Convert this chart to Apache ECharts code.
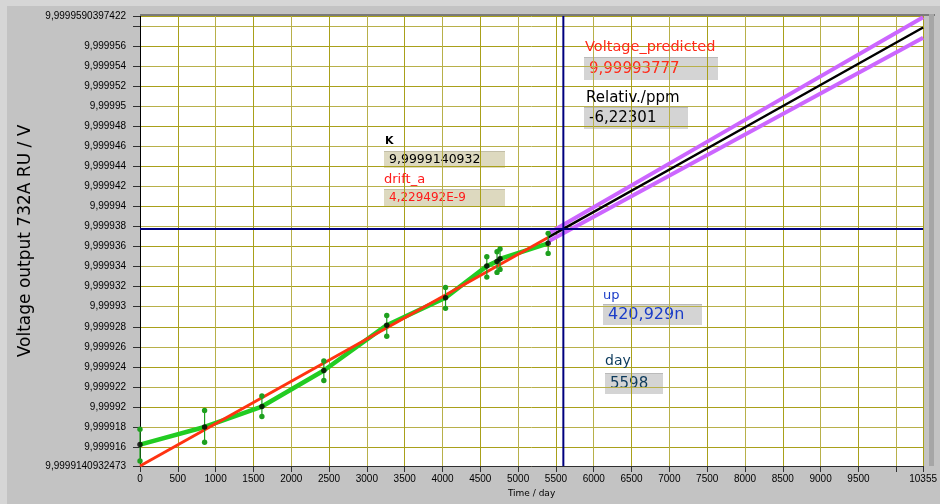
<!DOCTYPE html>
<html>
<head>
<meta charset="utf-8">
<script src="https://cdn.jsdelivr.net/npm/echarts@6/dist/echarts.min.js"></script>
<style>
html,body{margin:0;padding:0;background:#c3c3c3;}
#chart{width:940px;height:504px;}
</style>
</head>
<body>
<div id="chart"></div>
<script>
// ---- data ----
const days      = [0, 854, 1612, 2431, 3263, 4040, 4586, 4721, 4761, 5397];
const meanV     = [9.99991623, 9.99991799, 9.99992003, 9.99992363, 9.99992816, 9.99993091, 9.99993406, 9.99993453, 9.99993479, 9.99993633];
const lowV      = [9.99991459, 9.99991646, 9.99991903, 9.99992263, 9.99992706, 9.99992984, 9.99993296, 9.99993343, 9.99993373, 9.99993533];
const highV     = [9.99991776, 9.99991963, 9.99992109, 9.99992459, 9.99992913, 9.99993193, 9.99993499, 9.99993549, 9.99993576, 9.99993733];
const fitDays   = [0, 5397];
const fitV      = [9.9999140932, 9.99993692];
const predDays  = [5397, 5598, 7800, 10355];
const predV     = [9.99993692, 9.99993777, 9.99994708, 9.99995789];
const predUpV   = [9.99993732, 9.99993819, 9.99994779, 9.99995891];
const predLoV   = [9.99993652, 9.99993735, 9.99994637, 9.99995687];
const cursorDay = 5598;
const cursorV   = 9.99993777;

const xMin = 0, xMax = 10355;
const yMin = 9.9999140932473, yMax = 9.9999590397422;
const xTicks = [0,500,1000,1500,2000,2500,3000,3500,4000,4500,5000,5500,6000,6500,7000,7500,8000,8500,9000,9500,10000,10355];
const xLabels = [0,500,1000,1500,2000,2500,3000,3500,4000,4500,5000,5500,6000,6500,7000,7500,8000,8500,9000,9500,10355];
const yTicks = [9.9999140932473,9.999916,9.999918,9.99992,9.999922,9.999924,9.999926,9.999928,9.99993,9.999932,9.999934,9.999936,9.999938,9.99994,9.999942,9.999944,9.999946,9.999948,9.99995,9.999952,9.999954,9.999956,9.999958,9.9999590397422];
const yLabels = [9.9999140932473,9.999916,9.999918,9.99992,9.999922,9.999924,9.999926,9.999928,9.99993,9.999932,9.999934,9.999936,9.999938,9.99994,9.999942,9.999944,9.999946,9.999948,9.99995,9.999952,9.999954,9.999956,9.9999590397422];

const boxTexts = {
  kLabel: 'K', kValue: '9,9999140932',
  aLabel: 'drift_a', aValue: '4,229492E-9',
  vpLabel: 'Voltage_predicted', vpValue: '9,99993777',
  relLabel: 'Relativ./ppm', relValue: '-6,22301',
  upLabel: 'up', upValue: '420,929n',
  dayLabel: 'day', dayValue: '5598'
};

// ---- chart ----
const chart = echarts.init(document.getElementById('chart'), null, {renderer: 'canvas'});
const fmtY = v => {
  let s = Number(v).toFixed(13).replace(/0+$/, '').replace(/\.$/, '');
  return s.replace('.', ',');
};
const pairs = (xs, ys) => xs.map((x, i) => [x, ys[i]]);
const F = 'DejaVu Sans';

function label(x, cy, text, color, size, weight) {
  return {type: 'text', x: x, y: cy, z: 100,
    style: {text: text, fill: color, font: (weight || 'normal') + ' ' + size + 'px "' + F + '"', verticalAlign: 'middle', align: 'left'}};
}
function box(x, y, w, h, fill, text, color, size) {
  return {type: 'group', x: x, y: y, z: 100, children: [
    {type: 'rect', shape: {x: 0, y: 0, width: w, height: h}, style: {fill: fill}},
    {type: 'line', shape: {x1: 0, y1: 0.5, x2: w, y2: 0.5}, style: {stroke: 'rgba(0,0,0,0.12)', lineWidth: 1}},
    {type: 'text', x: 5, y: h / 2 + 0.5, style: {text: text, fill: color, font: size + 'px "' + F + '"', verticalAlign: 'middle', align: 'left'}}
  ]};
}

const option = {
  animation: false,
  backgroundColor: '#c3c3c3',
  grid: {left: 140, right: 11, top: 16, bottom: 38, show: true, backgroundColor: '#ffffff', borderWidth: 0},
  xAxis: {
    type: 'value', min: xMin, max: xMax,
    name: 'Time / day', nameLocation: 'middle', nameGap: 22,
    nameTextStyle: {color: '#000', fontFamily: F, fontSize: 9},
    axisLine: {show: true, onZero: false, lineStyle: {color: '#303030', width: 1}},
    axisTick: {show: true, customValues: xTicks, length: 6, lineStyle: {color: '#303030'}},
    axisLabel: {customValues: xLabels, formatter: v => String(Math.round(v)), color: '#000', fontFamily: 'Liberation Sans', fontSize: 10, margin: 8},
    splitLine: {show: true, lineStyle: {color: ['#b8b04a', '#a9a01a'], width: 1}}
  },
  yAxis: {
    type: 'value', min: yMin, max: yMax, scale: true,
    name: 'Voltage output 732A RU / V', nameLocation: 'middle', nameGap: 88,
    nameTextStyle: {color: '#000', fontFamily: F, fontSize: 17},
    axisLine: {show: true, onZero: false, lineStyle: {color: '#000', width: 1}},
    axisTick: {show: true, customValues: yTicks, length: 7, lineStyle: {color: '#303030'}},
    axisLabel: {customValues: yLabels, formatter: fmtY, color: '#000', fontFamily: 'Liberation Sans', fontSize: 10, margin: 14},
    splitLine: {show: true, lineStyle: {color: ['#b8b04a', '#a9a01a'], width: 1}}
  },
  series: [
    {type: 'line', data: pairs(days, meanV), showSymbol: false, z: 3,
     lineStyle: {color: '#22cc22', width: 4.5}},
    {type: 'line', data: pairs(fitDays, fitV), showSymbol: false, z: 4,
     lineStyle: {color: '#ff3311', width: 3}},
    {type: 'line', data: pairs(predDays, predUpV), showSymbol: false, z: 4,
     lineStyle: {color: '#cc66ff', width: 4}},
    {type: 'line', data: pairs(predDays, predLoV), showSymbol: false, z: 4,
     lineStyle: {color: '#cc66ff', width: 4}},
    {type: 'line', data: pairs(predDays, predV), showSymbol: false, z: 5,
     lineStyle: {color: '#000000', width: 2.5}},
    {type: 'custom', z: 6,
     data: days.map((d, i) => [d, lowV[i], highV[i]]),
     renderItem: function (params, api) {
       const p1 = api.coord([api.value(0), api.value(1)]);
       const p2 = api.coord([api.value(0), api.value(2)]);
       const c = '#1ea01e';
       return {type: 'group', children: [
         {type: 'line', shape: {x1: p1[0], y1: p1[1], x2: p2[0], y2: p2[1]}, style: {stroke: c, lineWidth: 1.2}},
         {type: 'circle', shape: {cx: p1[0], cy: p1[1], r: 2.7}, style: {fill: c}},
         {type: 'circle', shape: {cx: p2[0], cy: p2[1], r: 2.7}, style: {fill: c}}
       ]};
     }},
    {type: 'scatter', data: pairs(days, meanV), symbolSize: 5.5, z: 7,
     itemStyle: {color: '#000000'}},
    {type: 'line', data: [[cursorDay, yMin], [cursorDay, yMax]], showSymbol: false, z: 8,
     lineStyle: {color: '#00007f', width: 2}},
    {type: 'line', data: [[xMin, cursorV], [xMax, cursorV]], showSymbol: false, z: 8,
     lineStyle: {color: '#00007f', width: 2}}
  ],
  graphic: [
    {type: 'rect', left: 0, top: 0, z: -1, shape: {width: 940, height: 6}, style: {fill: '#d6d6d6'}},
    {type: 'rect', left: 0, top: 0, z: -1, shape: {width: 7, height: 504}, style: {fill: '#d6d6d6'}},
    {type: 'rect', left: 140, top: 14, z: 50, shape: {width: 795, height: 2}, style: {fill: '#7a7a7a'}},
    {type: 'rect', left: 929, top: 14, z: 50, shape: {width: 5, height: 452}, style: {fill: '#a6a6a6'}},
    label(385, 141, boxTexts.kLabel, '#000', 11, 'bold'),
    box(384, 151, 121, 17, '#ddd9bf', boxTexts.kValue, '#000', 12.5),
    label(384, 180, boxTexts.aLabel, '#ff1a1a', 13),
    box(384, 189, 121, 17, '#ddd9bf', boxTexts.aValue, '#ff1a1a', 12),
    label(585, 47, boxTexts.vpLabel, '#ff2a1a', 14.5),
    box(584, 57, 134, 23, '#d4d4d4', boxTexts.vpValue, '#ff2a1a', 15),
    label(586, 98, boxTexts.relLabel, '#000', 15),
    box(584, 107, 104, 22, '#d4d4d4', boxTexts.relValue, '#000', 15),
    label(603, 296, boxTexts.upLabel, '#1a3cc8', 13),
    box(603, 304, 99, 21, '#d4d4d4', boxTexts.upValue, '#1a3cc8', 16),
    label(605, 361, boxTexts.dayLabel, '#0c3a5c', 14),
    box(605, 373, 58, 21, '#d4d4d4', boxTexts.dayValue, '#0c3a5c', 15)
  ]
};
chart.setOption(option);
</script>
</body>
</html>
